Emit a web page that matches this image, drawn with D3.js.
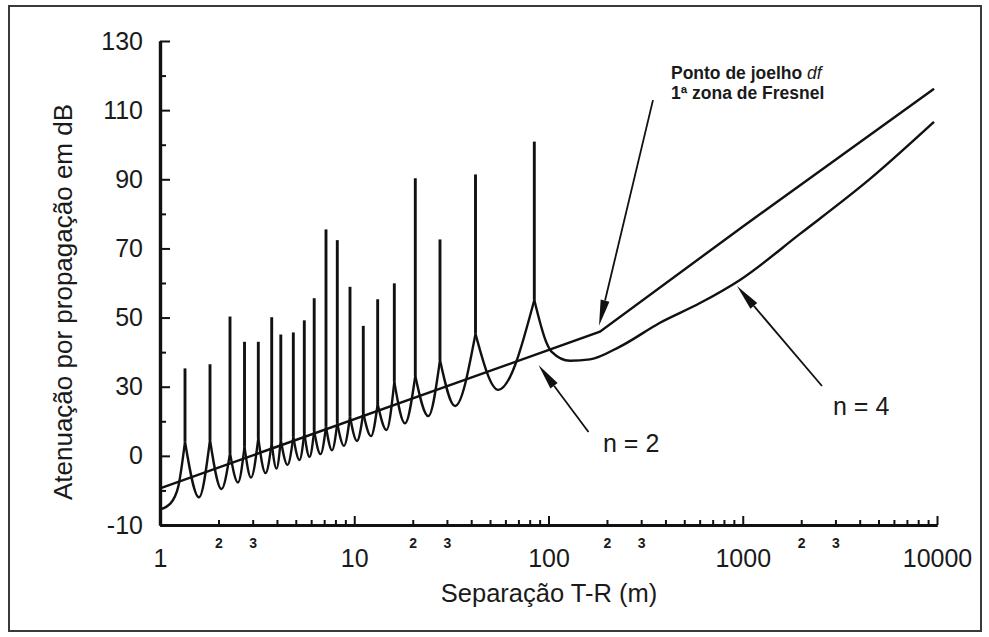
<!DOCTYPE html>
<html>
<head>
<meta charset="utf-8">
<script src="https://cdn.jsdelivr.net/npm/d3@7"></script>
<style>
body { margin: 0; background: #fff; }
svg text { font-family: "Liberation Sans", Arial, sans-serif; fill: #1a1a1a; }
</style>
</head>
<body>
<div class="chart"></div>
<script>
// Top curve: n = 2 line up to the knee, then n = 4.
var topD = [1, 184, 1027, 9660];
var topV = [0.6, 45.9, 76.8, 116.2];

// Two-ray curve: the spikes (nulls), their bases and the dips between them.
var spikeD = [1.345, 1.809, 2.293, 2.723, 3.207, 3.759, 4.187, 4.857, 5.532, 6.220, 7.154, 8.179, 9.509, 11.13, 13.20, 16.08, 20.62, 27.63, 42.09, 84.52];
var spikeTop = [35.3, 36.5, 50.3, 43.0, 43.0, 50.1, 45.1, 45.7, 49.2, 55.6, 75.5, 72.4, 58.9, 47.6, 55.3, 59.9, 90.3, 72.6, 91.4, 100.9];
var spikeBase = [14.1, 14.6, 10.8, 12.6, 15.1, 13.7, 14.6, 15.5, 16.6, 17.2, 18.4, 19.4, 21.4, 22.4, 25.0, 31.4, 33.1, 37.7, 45.3, 55.1];
var dipD = [1.588, 2.073, 2.520, 2.941, 3.493, 3.979, 4.533, 5.226, 5.885, 6.705, 7.683, 8.856, 10.33, 12.20, 14.66, 18.25, 24.06, 33.02, 55.16];
var dipV = [-2.0, 0.4, 2.3, 3.7, 5.0, 6.3, 7.4, 8.8, 9.7, 10.5, 11.6, 12.9, 14.3, 15.7, 17.5, 19.4, 21.5, 24.4, 29.1];
// Before the first spike and after the last one.
var headD = [1, 1.126, 1.242];
var headV = [-5.5, -3.9, 1.1];
var tailD = [97.9, 103.9, 129.1, 163.6, 233.4, 375.0, 602.6, 967.8, 1971, 4520, 9652];
var tailV = [42.6, 40.1, 37.5, 37.9, 41.6, 48.5, 54.2, 60.9, 74.2, 90.1, 106.6];

// Axis ticks and labels.
var xTickValues = [1, 10, 100, 1000, 10000];
var xTickLabels = ["1", "10", "100", "1000", "10000"];
var xSmallLabels = ["2", "3"];
var yTickValues = [-10, 10, 30, 50, 70, 90, 110, 130];
var yTickLabels = ["-10", "0", "30", "50", "70", "90", "110", "130"];
var yMinorValues = [0, 20, 40, 60, 80, 100, 120];

var width = 989, height = 637;

var svg = d3.select(".chart").append("svg")
    .attr("width", width)
    .attr("height", height);

//Outer frame.
svg.append("rect")
    .attr("x", 9).attr("y", 6)
    .attr("width", 972).attr("height", 625)
    .attr("fill", "none")
    .attr("stroke", "#3a3a3a")
    .attr("stroke-width", 2);

var x = d3.scaleLog().domain([1, 10000]).range([160, 937]);
var y = d3.scaleLinear().domain([-10, 130]).range([525, 41]);

//Minor x ticks, with the small 2 and 3 labels.
var minorX = x.ticks().filter(function(d) { return xTickValues.indexOf(d) < 0; });
var xMinorAxis = d3.axisBottom(x).tickValues(minorX).tickSize(-5).tickSizeOuter(0).tickPadding(13)
    .tickFormat(function(d) {
        var lead = String(Math.round(d / Math.pow(10, Math.floor(Math.log10(d) + 1e-9))));
        return xSmallLabels.indexOf(lead) >= 0 ? lead : "";
    });
var gxm = svg.append("g").attr("transform", "translate(0,525)").call(xMinorAxis);
gxm.selectAll("text").attr("font-size", 14).attr("font-weight", "bold").attr("font-family", "Liberation Sans, Arial, sans-serif");

//Major x ticks.
var xAxis = d3.axisBottom(x).tickValues(xTickValues).tickSize(-9).tickSizeOuter(0).tickPadding(24)
    .tickFormat(function(d, i) { return xTickLabels[i]; });
var gx = svg.append("g").attr("transform", "translate(0,525)").call(xAxis);
gx.selectAll("text").attr("font-size", 25).attr("font-family", "Liberation Sans, Arial, sans-serif");

//Y axis.
var yMinorAxis = d3.axisLeft(y).tickValues(yMinorValues).tickSize(-6).tickSizeOuter(0).tickFormat("");
svg.append("g").attr("transform", "translate(160,0)").call(yMinorAxis);
var yAxis = d3.axisLeft(y).tickValues(yTickValues).tickSize(-10).tickSizeOuter(0).tickPadding(17)
    .tickFormat(function(d, i) { return yTickLabels[i]; });
var gy = svg.append("g").attr("transform", "translate(160,0)").call(yAxis);
gy.selectAll("text").attr("font-size", 25).attr("font-family", "Liberation Sans, Arial, sans-serif");

svg.selectAll(".domain").attr("stroke", "#111").attr("stroke-width", 3.2);
svg.selectAll(".tick line").attr("stroke", "#111").attr("stroke-width", 2);

//Axis titles.
svg.append("text")
    .attr("x", 549).attr("y", 602)
    .attr("text-anchor", "middle")
    .attr("font-size", 25.5)
    .text("Separação T-R (m)");
svg.append("text")
    .attr("transform", "translate(72,302) rotate(-90)")
    .attr("text-anchor", "middle")
    .attr("font-size", 26)
    .text("Atenuação por propagação em dB");

var line = d3.line().x(function(p) { return x(p[0]); }).y(function(p) { return y(p[1]); });
var smooth = d3.line().curve(d3.curveMonotoneX).x(function(p) { return x(p[0]); }).y(function(p) { return y(p[1]); });

//Top curve.
var topPts = topD.map(function(d, i) { return [d, topV[i]]; });
svg.append("path").datum(topPts)
    .attr("d", line)
    .attr("fill", "none").attr("stroke", "#111").attr("stroke-width", 2.4);

//Two-ray curve, one lobe at a time so the joins stay sharp.
var lobes = [];
lobes.push(headD.map(function(d, i) { return [d, headV[i]]; }).concat([[spikeD[0], spikeBase[0]]]));
dipD.forEach(function(d, i) {
    lobes.push([[spikeD[i], spikeBase[i]], [d, dipV[i]], [spikeD[i + 1], spikeBase[i + 1]]]);
});
var last = spikeD.length - 1;
lobes.push([[spikeD[last], spikeBase[last]]].concat(tailD.map(function(d, i) { return [d, tailV[i]]; })));

svg.selectAll("path.lobe").data(lobes).enter().append("path")
    .attr("class", "lobe")
    .attr("d", smooth)
    .attr("fill", "none").attr("stroke", "#111").attr("stroke-width", 2.4);

//Spikes.
svg.selectAll("line.spike").data(spikeD).enter().append("line")
    .attr("class", "spike")
    .attr("x1", function(d) { return x(d); })
    .attr("x2", function(d) { return x(d); })
    .attr("y1", function(d, i) { return y(spikeBase[i]); })
    .attr("y2", function(d, i) { return y(spikeTop[i]); })
    .attr("stroke", "#111").attr("stroke-width", 2.9);

//Annotations: arrows from label to curve.
var arrows = [
    { from: [345, 112.9], to: [182, 47.6] },
    { from: [160.7, 16.9], to: [88.8, 36.3] },
    { from: [2558, 30.2], to: [934, 59.1] }
];
arrows.forEach(function(a) {
    var x1 = x(a.from[0]), y1 = y(a.from[1]), x2 = x(a.to[0]), y2 = y(a.to[1]);
    var ang = Math.atan2(y2 - y1, x2 - x1);
    var len = 26, hw = 4.5;
    var bx = x2 - len * Math.cos(ang), by = y2 - len * Math.sin(ang);
    svg.append("line")
        .attr("x1", x1).attr("y1", y1).attr("x2", bx).attr("y2", by)
        .attr("stroke", "#111").attr("stroke-width", 1.8);
    svg.append("path")
        .attr("d", "M" + x2 + "," + y2 +
            "L" + (bx + hw * Math.sin(ang)) + "," + (by - hw * Math.cos(ang)) +
            "L" + (bx - hw * Math.sin(ang)) + "," + (by + hw * Math.cos(ang)) + "Z")
        .attr("fill", "#111");
});

svg.append("text").attr("x", x(190.8)).attr("y", y(11.1)).attr("font-size", 25).text("n = 2");
svg.append("text").attr("x", x(2915)).attr("y", y(21.8)).attr("font-size", 25).text("n = 4");

var knee1 = svg.append("text").attr("x", x(427)).attr("y", y(119.0))
    .attr("font-size", 17.5).attr("font-weight", "bold");
knee1.append("tspan").text("Ponto de joelho ");
knee1.append("tspan").attr("font-style", "italic").attr("font-weight", "normal").text("df");
svg.append("text").attr("x", x(427)).attr("y", y(113.2))
    .attr("font-size", 17.5).attr("font-weight", "bold")
    .text("1ª zona de Fresnel");
</script>
</body>
</html>
